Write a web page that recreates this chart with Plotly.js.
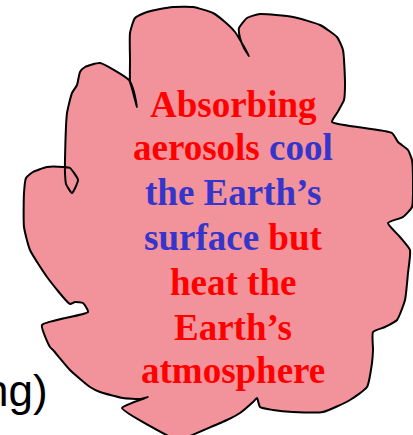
<!DOCTYPE html>
<html>
<head>
<meta charset="utf-8">
<script src="https://cdn.plot.ly/plotly-3.0.1.min.js"></script>
<style>html,body{margin:0;padding:0;background:#fff;}#chart{width:413px;height:435px;}</style>
</head>
<body>
<div id="chart"></div>
<script>
// Cloud outline (pixel-space data coordinates, y downwards)
const cloudX = [130,130,130,135,147,160,173,193,213,225,235,243,249,244,240,239,247,260,293,320,337,343,345,344,337,332,392,398,408,412,413,412,403,388,400,410,408,405,397,385,373,373,372,367,350,323,293,273,260,257,253,240,227,188,180,170,122,148,140,123,100,90,70,53,50,42,88,83,75,70,47,30,24,24,26,33,47,63,70,78,72,66,65,65,67,72,77,80,85,100,129,134,137,134,131,130];
const cloudY = [82,60,33,18,12,9,7,7,13,22,32,45,56,48,38,28,18,14,17,25,37,50,83,100,113,122,133,142,150,160,180,207,217,223,237,250,273,300,320,327,332,350,363,387,400,412,412,410,407,398,402,413,420,437,442,437,408,397,399,398,392,387,370,350,347,325,312,303,302,304,277,250,227,193,178,172,167,167,168,180,193,184,173,160,113,93,85,72,67,63,80,92,107,96,85,82];

// Text of the cloud: one entry per line, words split by colour
const lineWords = [
  ["Absorbing"],
  ["aerosols ", "cool"],
  ["the Earth’s"],
  ["surface ", "but"],
  ["heat the"],
  ["Earth’s"],
  ["atmosphere"]
];
const lineColors = [
  ["red"],
  ["red", "blue"],
  ["blue"],
  ["blue", "red"],
  ["red"],
  ["red"],
  ["red"]
];
const lineBaselines = [117, 160, 205, 250, 295, 340, 383];
const sideText = "ng)";

const palette = {red: "#ff0000", blue: "#3535cc"};

const serifSize = 37;
const annotations = lineWords.map((words, i) => ({
  x: 233, y: lineBaselines[i] - 12.5, xref: "x", yref: "y",
  xanchor: "center", yanchor: "middle", showarrow: false,
  text: "<b>" + words.map((w, j) => `<span style="color:${palette[lineColors[i][j]]}">${w}</span>`).join("") + "</b>",
  font: {family: "Liberation Serif, Times New Roman, serif", size: serifSize, color: "#ff0000"}
}));
annotations.push({
  x: 50, y: 390, xref: "x", yref: "y", xanchor: "right", yanchor: "middle",
  showarrow: false, text: sideText,
  font: {family: "Liberation Sans, Arial, sans-serif", size: 44, color: "#000"}
});

const trace = {
  x: cloudX, y: cloudY, type: "scatter", mode: "lines",
  fill: "toself", fillcolor: "rgb(242,146,155)",
  line: {color: "#000", width: 2, shape: "spline", smoothing: 0.5},
  hoverinfo: "skip"
};

const layout = {
  width: 413, height: 435,
  margin: {l: 0, r: 0, t: 0, b: 0, pad: 0},
  paper_bgcolor: "#fff", plot_bgcolor: "#fff",
  showlegend: false,
  xaxis: {range: [0, 413], visible: false, fixedrange: true},
  yaxis: {range: [435, 0], visible: false, fixedrange: true},
  annotations: annotations
};

Plotly.newPlot("chart", [trace], layout, {displayModeBar: false, staticPlot: true});
</script>
</body>
</html>
